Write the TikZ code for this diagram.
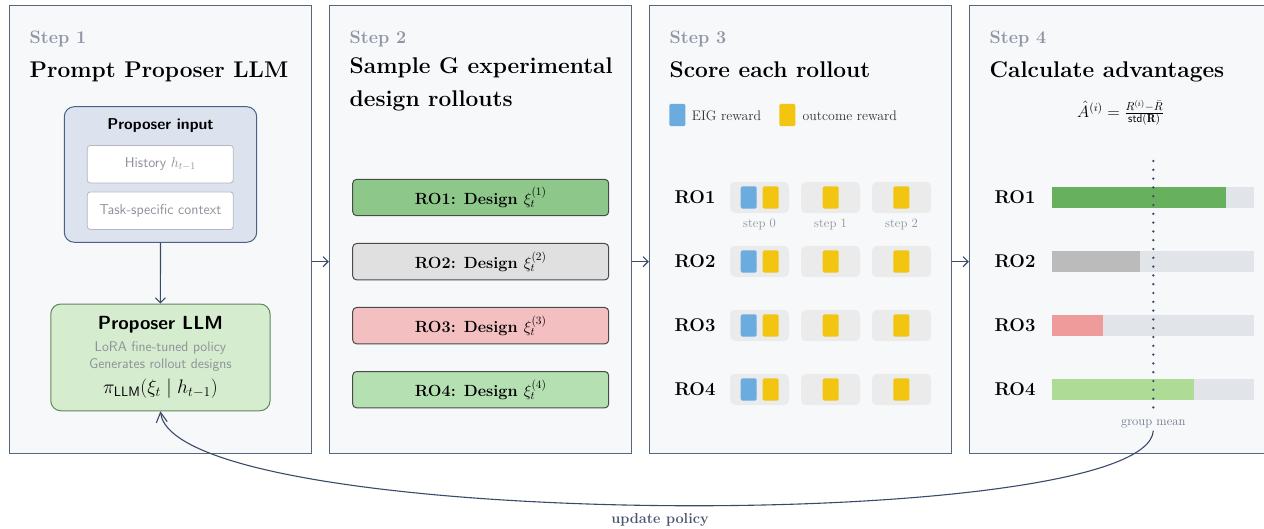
\RequirePackage{fix-cm}
\documentclass[tikz,border=0pt]{standalone}
\usepackage{fontspec}
\usetikzlibrary{arrows.meta,calc}
\definecolor{panelbg}{HTML}{F7F8FA}
\definecolor{panelbd}{HTML}{56667F}
\definecolor{connc}{HTML}{3B4A68}
\definecolor{steptxt}{HTML}{8E96A3}
\definecolor{graytxt}{HTML}{8C9199}
\definecolor{inbg}{HTML}{DCE3EF}
\definecolor{inbd}{HTML}{4B6086}
\definecolor{wbd}{HTML}{B3B8BF}
\definecolor{llmbg}{HTML}{D5ECCF}
\definecolor{llmbd}{HTML}{5E8A59}
\definecolor{dbd}{HTML}{4A4A4A}
\definecolor{roA}{HTML}{8DC88A}
\definecolor{roB}{HTML}{E0E0E0}
\definecolor{roC}{HTML}{F4BFC0}
\definecolor{roD}{HTML}{B5E0B2}
\definecolor{cellbg}{HTML}{EBEBEB}
\definecolor{eigc}{HTML}{6AABE0}
\definecolor{outc}{HTML}{F2C511}
\definecolor{barbg}{HTML}{E1E4E8}
\definecolor{barA}{HTML}{67B05D}
\definecolor{barB}{HTML}{BBBBBB}
\definecolor{barC}{HTML}{EF9A9B}
\definecolor{barD}{HTML}{AEDC97}
\definecolor{smalltxt}{HTML}{8A919C}
\definecolor{updtxt}{HTML}{4A5670}
\begin{document}
\begin{tikzpicture}[x=1pt,y=-1pt,
  panel/.style={draw=panelbd, fill=panelbg, line width=1.4pt, minimum width=302pt, minimum height=448pt, inner sep=0pt},
  steplbl/.style={anchor=base west, inner sep=0pt, text=steptxt, font=\fontsize{18}{20}\selectfont\bfseries},
  titletxt/.style={anchor=base west, inner sep=0pt, font=\fontsize{22.7}{26}\selectfont\bfseries},
  inbox/.style={draw=inbd, fill=inbg, line width=1pt, rounded corners=10pt, minimum width=192.4pt, minimum height=135.6pt, inner sep=0pt},
  whitebox/.style={draw=wbd, fill=white, line width=0.8pt, rounded corners=3pt, minimum width=146pt, minimum height=37.5pt, inner sep=0pt, text=graytxt, font=\fontsize{14.3}{16}\selectfont\sffamily},
  llmbox/.style={draw=llmbd, fill=llmbg, line width=1pt, rounded corners=10pt, minimum width=219.3pt, minimum height=106.7pt, inner sep=0pt},
  sanssub/.style={inner sep=0pt, text=graytxt, font=\fontsize{14}{16}\selectfont\sffamily},
  design/.style={draw=dbd, line width=1pt, rounded corners=4pt, minimum width=256pt, minimum height=36.4pt, inner sep=0pt, font=\fontsize{16.2}{18}\selectfont\bfseries},
  rolbl/.style={anchor=west, inner sep=0pt, font=\fontsize{18.5}{20}\selectfont\bfseries},
  cell/.style={fill=cellbg, rounded corners=5pt, minimum width=59pt, minimum height=31.3pt, inner sep=0pt},
  eig/.style={fill=eigc, rounded corners=1.5pt, minimum width=16pt, minimum height=22.4pt, inner sep=0pt},
  outr/.style={fill=outc, rounded corners=1.5pt, minimum width=16pt, minimum height=22.4pt, inner sep=0pt},
  smalllbl/.style={inner sep=0pt, text=smalltxt, font=\fontsize{12.7}{14}\selectfont},
  legtxt/.style={anchor=west, inner sep=0pt, text=black!80, font=\fontsize{13.8}{15}\selectfont},
  conn/.style={draw=connc, line width=1.1pt, -{Straight Barb[length=5pt,width=10pt]}},
  bigconn/.style={draw=connc, line width=1.1pt, -{Straight Barb[length=10pt,width=11pt]}},
  meanline/.style={draw=connc, line width=2.6pt, line cap=round, dash pattern=on 0pt off 8.8pt}
]
\useasboundingbox (0,0) rectangle (1264,529);
\fill[white] (0,0) rectangle (1264,529);

% panels
\node[panel] (p1) at (160.5,229.3) {};
\node[panel] (p2) at (480.5,229.3) {};
\node[panel] (p3) at (800.5,229.3) {};
\node[panel] (p4) at (1120.5,229.3) {};

% step labels and titles
\node[steplbl] (s1) at (29.5,43.5) {Step 1};
\node[steplbl] (s2) at (349.5,43.5) {Step 2};
\node[steplbl] (s3) at (669.5,43.5) {Step 3};
\node[steplbl] (s4) at (989.5,43.5) {Step 4};
\node[titletxt] (t1) at (29.5,77.5) {Prompt Proposer LLM};
\node[titletxt] (t2a) at (349.5,74) {Sample G experimental};
\node[titletxt] (t2b) at (349.5,107) {design rollouts};
\node[titletxt] (t3) at (669.5,77.5) {Score each rollout};
\node[titletxt] (t4) at (989.5,77.5) {Calculate advantages};

% panel 1
\node[inbox] (pin) at (160.5,174.5) {};
\node[inner sep=0pt, font=\fontsize{15.7}{17}\selectfont\sffamily\bfseries] (pint) at (160.5,126) {Proposer input};
\node[whitebox] (hist) at (160.3,164.2) {History $h_{t-1}$};
\node[whitebox] (task) at (160.3,210.7) {Task-specific context};
\node[llmbox] (llm) at (160.4,357.4) {};
\node[inner sep=0pt, font=\fontsize{19}{21}\selectfont\sffamily\bfseries] (llmt) at (160.4,325) {Proposer LLM};
\node[sanssub] (llm1) at (160.4,347.7) {LoRA fine-tuned policy};
\node[sanssub] (llm2) at (160.4,365) {Generates rollout designs};
\node[inner sep=0pt, font=\fontsize{19.5}{21}\selectfont] (llm3) at (160.4,388.3) {$\pi_{\mathsf{LLM}}(\xi_t \mid h_{t-1})$};
\draw[conn] (pin.south) -- (llm.north);

% panel 2
\node[design, fill=roA] (d1) at (480.7,197.5) {RO1: Design $\xi_t^{(1)}$};
\node[design, fill=roB] (d2) at (480.7,261.7) {RO2: Design $\xi_t^{(2)}$};
\node[design, fill=roC] (d3) at (480.7,325.7) {RO3: Design $\xi_t^{(3)}$};
\node[design, fill=roD] (d4) at (480.7,389.7) {RO4: Design $\xi_t^{(4)}$};

% panel 3 legend
\node[eig] (legE) at (677.3,115) {};
\node[legtxt] (legEt) at (691.7,115.5) {EIG reward};
\node[outr] (legO) at (787.3,115) {};
\node[legtxt] (legOt) at (802.5,115.5) {outcome reward};

% panel 3 rows
\foreach \r/\yy in {1/197.5,2/261.5,3/325.5,4/389.5}{
  \node[rolbl] (sr\r) at (674.3,\yy) {RO\r};
  \node[cell] (c\r a) at (759.5,\yy) {};
  \node[cell] (c\r b) at (830.5,\yy) {};
  \node[cell] (c\r c) at (901.5,\yy) {};
  \node[eig] (e\r) at (748.7,\yy) {};
  \node[outr] (o\r a) at (770.7,\yy) {};
  \node[outr] (o\r b) at (830.7,\yy) {};
  \node[outr] (o\r c) at (901.3,\yy) {};
}
\node[smalllbl] (st0) at (759.5,225) {step 0};
\node[smalllbl] (st1) at (830.5,225) {step 1};
\node[smalllbl] (st2) at (901.5,225) {step 2};

% panel 4
\node[inner sep=0pt, font=\fontsize{16.5}{18}\selectfont] (form) at (1120.5,113) {$\hat{A}^{(i)} = \frac{R^{(i)} - \bar{R}}{\mathsf{std}(\mathbf{R})}$};
\foreach \r/\yy/\ee/\cc in {1/197.5/1226/barA,2/261.5/1140/barB,3/325.5/1103/barC,4/389.5/1194/barD}{
  \node[rolbl] (ar\r) at (994.3,\yy) {RO\r};
  \fill[barbg] (1052,\yy-10.4) rectangle (1254,\yy+10.4);
  \fill[\cc] (1052,\yy-10.4) rectangle (\ee,\yy+10.4);
}
\coordinate (mtop) at (1153.3,161);
\coordinate (mbot) at (1153.3,411);
\draw[meanline] (mtop) -- (mbot);
\node[smalllbl, text=updtxt!80, inner sep=2pt] (gm) at (1153.3,424.3) {group mean};

% connectors between panels
\draw[conn] (p1.east |- d2) -- (p2.west |- d2);
\draw[conn] (p2.east |- d2) -- (p3.west |- d2);
\draw[conn] (p3.east |- d2) -- (p4.west |- d2);

% feedback
\draw[bigconn] (gm.south) .. controls (1147,535) and (175,532) .. (llm.south)
  node[pos=0.5, anchor=north, yshift=-8pt, inner sep=0pt, text=updtxt, font=\fontsize{14.5}{16}\selectfont\bfseries] (upd) {update policy};
\end{tikzpicture}
\end{document}
